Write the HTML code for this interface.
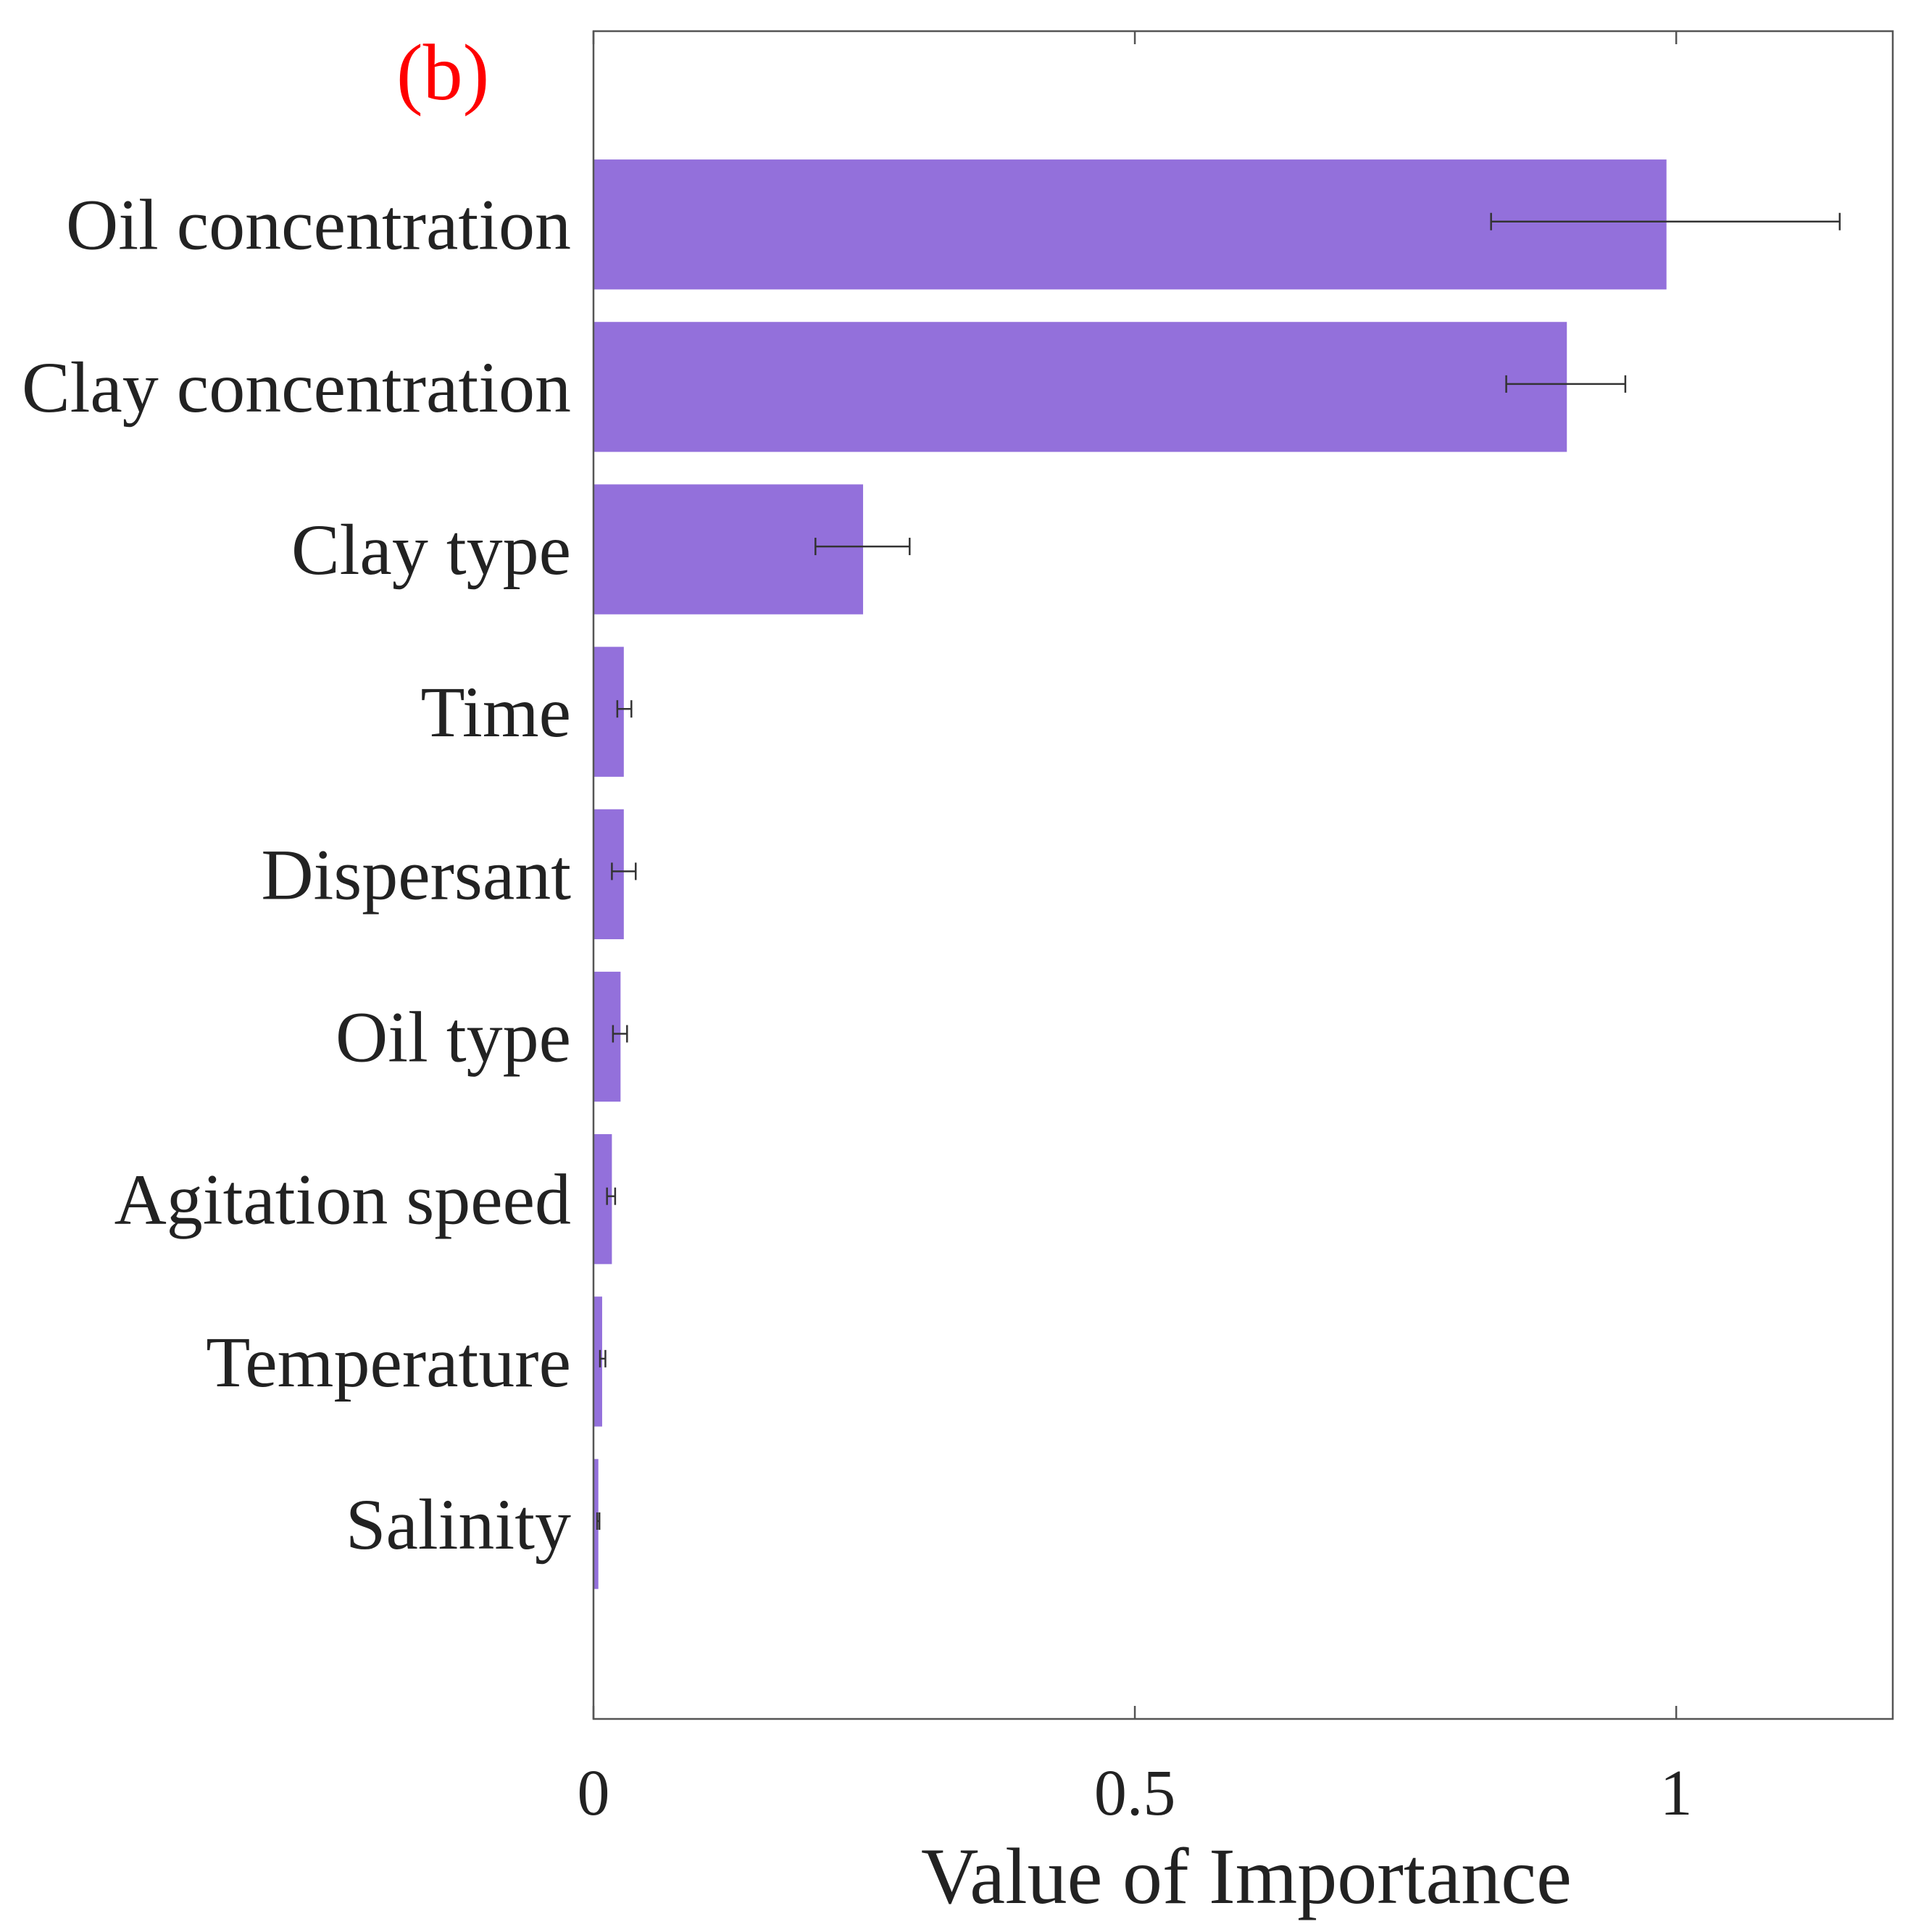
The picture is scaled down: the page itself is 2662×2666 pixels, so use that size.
<!DOCTYPE html>
<html><head><meta charset="utf-8"><style>html,body{margin:0;padding:0;background:#fff}svg{display:block}</style></head>
<body>
<svg id="chart" width="2662" height="2666" viewBox="0 0 2662 2666" xmlns="http://www.w3.org/2000/svg" font-family="'Liberation Serif', serif">
<rect width="2662" height="2666" fill="#fff"/>
<text x="547" y="137" font-size="110" fill="#ff0000">(b)</text>
<g id="plot"></g>
</svg>
<script>
const categories = ["Oil concentration","Clay concentration","Clay type","Time","Dispersant","Oil type","Agitation speed","Temperature","Salinity"];
const values = [0.991,0.899,0.249,0.028,0.028,0.025,0.017,0.008,0.0045];
const errLow = [0.829,0.843,0.205,0.022,0.017,0.018,0.0125,0.006,0.0035];
const errHigh = [1.151,0.953,0.292,0.035,0.039,0.031,0.020,0.011,0.0055];
const xTicks = [0,0.5,1];
const xTickLabels = ["0","0.5","1"];

const L=819,R=2612,T=43,B=2372,XMAX=1.2;
const NS="http://www.w3.org/2000/svg";
const g=document.getElementById('plot');
const sx=v=>L+(R-L)*v/XMAX;
const step=(B-T)/(categories.length+1.39);
const sy=i=>T+step*(1.19+i);
function mk(t,a,p){const e=document.createElementNS(NS,t);for(const k in a)e.setAttribute(k,a[k]);(p||g).appendChild(e);return e;}

categories.forEach((c,i)=>{
  const y=sy(i),h=step*0.8;
  const bar=mk('rect',{x:L,y:y-h/2,width:sx(values[i])-L,height:h,fill:'#9370db'});
  
  
  const eg=mk('g',{stroke:'#333','stroke-width':2.5});
  
  
  const ey=y-4;
  mk('line',{x1:sx(errLow[i]),x2:sx(errHigh[i]),y1:ey,y2:ey},eg);
  mk('line',{x1:sx(errLow[i]),x2:sx(errLow[i]),y1:ey-12,y2:ey+12},eg);
  mk('line',{x1:sx(errHigh[i]),x2:sx(errHigh[i]),y1:ey-12,y2:ey+12},eg);
  const t=mk('text',{x:788,y:y+34,'text-anchor':'end','font-size':100,fill:'#222'});
  t.textContent=c;
  
  
});

const frame=mk('rect',{x:L,y:T,width:R-L,height:B-T,fill:'none',stroke:'#555','stroke-width':2.5});



xTicks.forEach((v,i)=>{
  const x=sx(v);
  mk('line',{x1:x,x2:x,y1:B,y2:B-18,stroke:'#555','stroke-width':2.5});
  mk('line',{x1:x,x2:x,y1:T,y2:T+18,stroke:'#555','stroke-width':2.5});
  const t=mk('text',{x:x,y:2504,'text-anchor':'middle','font-size':90,fill:'#222'});
  t.textContent=xTickLabels[i];
  
  
});

const xt=mk('text',{x:1720,y:2626,'text-anchor':'middle','font-size':110,fill:'#222'});
xt.textContent='Value of Importance';


</script>
</body></html>
